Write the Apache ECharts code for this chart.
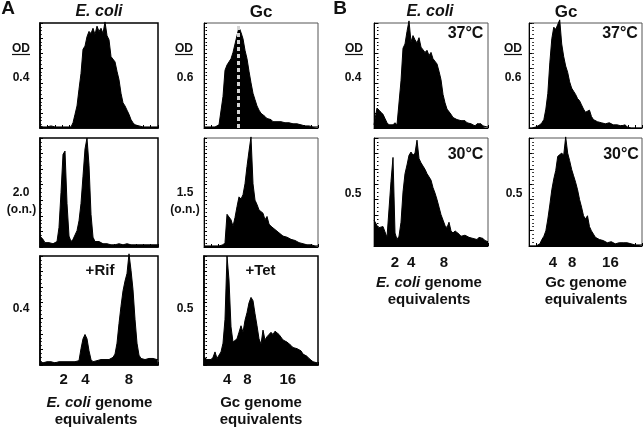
<!DOCTYPE html>
<html><head><meta charset="utf-8">
<script src="https://cdn.jsdelivr.net/npm/echarts@6/dist/echarts.min.js"></script>
<style>html,body{margin:0;padding:0;background:#fff}#c{width:644px;height:428px}</style>
</head><body><div id="c"></div>
<script>
// ---- data (histogram heights, % of panel full scale) ----
const ecoliTickLabels = [2, 4, 8];
const gcTickLabels = [4, 8, 16];

const ecoliA_log = [2,1,2,1,1,2,1,1,2,1,1,1,2,1,2,1,5,13,21,37,52,75,78,87,92,90,95,89,97,92,95,90,101,88,84,68,67,63,54,46,33,24,21,17,13,8,5,3,2,2,1,1,1,1,1,1,1,1,1];
const ecoliA_on = [10,7,4,3,4,3,3,4,5,18,50,85,88,40,10,5,7,11,15,24,40,65,90,100,75,30,9,5,4,5,4,3,4,3,3,2,3,2,2,3,2,2,2,3,2,2,2,2,2,2,2,2,2,2,2,2,2,2,2];
const ecoliA_rif = [3,2,3,3,2,3,3,2,3,3,2,3,3,3,2,3,3,3,3,4,15,24,28,24,13,5,3,3,4,4,5,5,5,6,5,6,7,10,20,38,54,68,77,84,102,87,69,42,20,9,6,6,5,6,6,5,6,6,5];
const gcA_log = [1,1,1,1,1,1,1,3,4,30,55,60,63,66,72,80,88,96,91,85,74,66,54,43,33,27,21,17,14,13,11,9,9,8,6,7,6,5,6,5,5,4,5,4,4,3,4,3,3,3,2,3,2,1,1,1,1];
const gcA_on = [1,1,1,1,1,1,1,1,2,2,4,30,29,25,19,27,37,46,44,48,58,74,88,101,58,43,39,34,33,31,25,28,21,19,18,16,15,13,13,10,10,9,8,7,6,6,5,4,4,3,3,2,2,2,1,1,1];
const gcA_tet = [7,5,6,5,7,12,6,7,12,20,42,100,78,35,21,20,24,30,36,30,41,48,57,62,59,47,36,24,19,32,23,26,28,30,28,31,32,28,27,23,24,21,20,18,16,17,15,14,13,10,9,8,6,5,3,2,2];
const ecoliB_37 = [3,19,17,15,13,9,5,3,4,3,5,3,4,45,76,80,92,102,82,88,84,81,86,77,76,72,74,69,72,66,66,61,54,46,32,24,18,18,13,10,11,8,9,7,8,7,5,4,4,4,2,4,3,4,2,2,1];
const gcB_37 = [0,0,0,1,2,3,5,8,18,33,62,85,96,94,93,103,80,68,59,53,44,38,35,32,28,26,22,18,15,14,17,11,8,9,6,7,5,6,4,5,5,4,3,3,3,3,2,2,3,1,0,0,0,0,0,0,0];
const ecoliB_30 = [24,19,17,17,18,13,8,8,60,82,12,6,9,22,50,67,75,84,87,84,86,98,81,77,74,71,67,68,61,54,49,43,36,29,24,19,17,22,14,12,14,15,11,9,9,10,9,8,8,7,7,6,8,7,7,5,4];
const gcB_30 = [0,0,0,0,1,2,6,9,14,25,38,52,62,70,83,82,86,84,101,86,79,71,65,59,52,43,36,28,25,28,18,14,11,8,7,6,5,5,4,3,3,4,3,2,3,3,4,3,2,3,3,2,2,1,1,1,1];

const gcA_dashLine = 6.1; // genome equivalents marker in Gc log-phase panel

// ---- layout ----
const FONT = '"Liberation Sans", Arial, Helvetica, sans-serif';
const panels = [
  {box:[40,23,118,105],  xr:[-0.16,10.66], data:ecoliA_log, bw:1.5, bc:'#000'},
  {box:[204,23,114,105], xr:[-0.6,22.0],   data:gcA_log,    bw:1,   bc:'#555', dash:gcA_dashLine},
  {box:[40,138,118,109], xr:[-0.16,10.66], data:ecoliA_on,  bw:1.5, bc:'#000'},
  {box:[204,138,114,109],xr:[-0.6,22.0],   data:gcA_on,     bw:1,   bc:'#555'},
  {box:[40,256,118,109], xr:[-0.16,10.66], data:ecoliA_rif, bw:1.5, bc:'#000', labels:ecoliTickLabels, margin:7},
  {box:[204,256,114,109],xr:[-0.6,22.0],   data:gcA_tet,    bw:1.5, bc:'#000', labels:gcTickLabels, margin:7},
  {box:[374,23,114,105], xr:[-0.55,13.39], data:ecoliB_37,  bw:1,   bc:'#555'},
  {box:[529,23,113,105], xr:[-1.0,22.6],   data:gcB_37,     bw:1,   bc:'#555'},
  {box:[374,138,114,108],xr:[-0.55,13.39], data:ecoliB_30,  bw:1,   bc:'#555', labels:ecoliTickLabels, margin:9},
  {box:[529,138,113,108],xr:[-1.0,22.6],   data:gcB_30,     bw:1,   bc:'#555', labels:gcTickLabels, margin:9}
];

const grid = [], xAxis = [], yAxis = [], series = [];
panels.forEach((p, gi) => {
  const [l,t,w,h] = p.box;
  grid.push({left:l, top:t, width:w, height:h, show:true, borderColor:p.bc, borderWidth:p.bw, backgroundColor:'transparent'});
  const [xmin,xmax] = p.xr;
  const xt = []; for (let k=0;k<=16;k++) xt.push(xmin + k*(xmax-xmin)/16);
  const yt = []; for (let k=0;k<=7;k++) yt.push(k*100/7);
  const ym = []; for (let k=0;k<=28;k++) ym.push(k*100/28);
  xAxis.push({
    gridIndex:gi, type:'value', min:xmin, max:xmax,
    axisLine:{show:true, onZero:false, lineStyle:{color:'#000', width:p.bw}},
    axisTick:{show:true, inside:true, length:3, customValues:xt, lineStyle:{color:'#000', width:1}},
    axisLabel: p.labels ? {show:true, customValues:p.labels, margin:p.margin, color:'#111',
      fontFamily:FONT, fontWeight:'bold', fontSize:15} : {show:false},
    splitLine:{show:false}
  });
  yAxis.push({
    gridIndex:gi, type:'value', min:0, max:100,
    axisLine:{show:true, onZero:false, lineStyle:{color:'#000', width:p.bw}},
    axisTick:{show:true, inside:true, length:3, customValues:yt, lineStyle:{color:'#000', width:1}},
    axisLabel:{show:false}, splitLine:{show:false}
  });
  yAxis.push({
    gridIndex:gi, type:'value', min:0, max:100,
    axisLine:{show:false},
    axisTick:{show:true, inside:true, length:1.5, customValues:ym, lineStyle:{color:'#000', width:1}},
    axisLabel:{show:false}, splitLine:{show:false}
  });
  const n = p.data.length, step = (xmax-xmin)/n;
  const pts = [[xmin, p.data[0]]];
  p.data.forEach((v,i) => pts.push([xmin + (i+0.5)*step, v]));
  pts.push([xmax, p.data[n-1]]);
  const s = {
    type:'line', xAxisIndex:gi, yAxisIndex:gi*2, data:pts, symbol:'none', clip:false,
    lineStyle:{color:'#000', width:1}, areaStyle:{color:'#000', opacity:1}, silent:true
  };
  if (p.dash !== undefined) {
    s.markLine = {silent:true, symbol:'none', label:{show:false},
      lineStyle:{color:'#d4d4d4', width:3, type:[4,3]}, data:[{xAxis:p.dash}]};
  }
  series.push(s);
});

function txt(text, x, y, font, extra) {
  return Object.assign({type:'text', x:x, y:y, silent:true,
    style:Object.assign({text:text, font:font, fill:'#111', textAlign:'center', textVerticalAlign:'middle', align:'center', verticalAlign:'middle'}, extra||{})});
}
const B12 = 'bold 12px ' + FONT, B15 = 'bold 15px ' + FONT, B16 = 'bold 16px ' + FONT;
const richGen = {i:{fontStyle:'italic', fontWeight:'bold', fontSize:15, fontFamily:FONT, fill:'#111'},
                 n:{fontWeight:'bold', fontSize:15, fontFamily:FONT, fill:'#111'}};
const graphic = [
  txt('A', 8, 9, 'bold 19px ' + FONT),
  txt('B', 340, 9, 'bold 19px ' + FONT),
  txt('E. coli', 99, 12, 'italic bold 16px ' + FONT),
  txt('Gc', 261, 12, 'bold 17px ' + FONT),
  txt('E. coli', 430, 12, 'italic bold 16px ' + FONT),
  txt('Gc', 566, 12, 'bold 17px ' + FONT),
  txt('OD', 21, 49, B12), txt('OD', 184, 49, B12), txt('OD', 354, 49, B12), txt('OD', 513, 49, B12),
  txt('0.4', 21, 78, B12), txt('0.6', 185, 78, B12), txt('0.4', 353, 78, B12), txt('0.6', 513, 78, B12),
  txt('2.0', 21, 193, B12), txt('(o.n.)', 21.5, 210, B12),
  txt('1.5', 185, 193, B12), txt('(o.n.)', 185, 210, B12),
  txt('0.4', 21, 309, B12), txt('0.5', 185, 309, B12),
  txt('0.5', 353, 194, B12), txt('0.5', 514, 194, B12),
  txt('+Rif', 100, 271, B15), txt('+Tet', 260.5, 271, B15),
  txt('37°C', 465.5, 34, B16), txt('37°C', 620, 34, B16),
  txt('30°C', 465.5, 155, B16), txt('30°C', 621, 155, B16),
  txt('{i|E. coli}{n| genome}', 99.5, 403, B15, {rich:richGen}),
  txt('equivalents', 96, 420, B15),
  txt('Gc genome', 261, 403, B15),
  txt('equivalents', 261, 420, B15),
  txt('{i|E. coli}{n| genome}', 429, 283, B15, {rich:richGen}),
  txt('equivalents', 429, 300, B15),
  txt('Gc genome', 586, 283, B15),
  txt('equivalents', 586, 300, B15)
];
[[12,30],[175,193],[345,363],[504,522]].forEach(([a,b]) => {
  graphic.push({type:'line', silent:true, shape:{x1:a, y1:54.5, x2:b, y2:54.5}, style:{stroke:'#111', lineWidth:1.2}});
});

const chart = echarts.init(document.getElementById('c'), null, {renderer:'canvas'});
chart.setOption({animation:false, backgroundColor:'#fff', grid, xAxis, yAxis, series, graphic});
</script>
</body></html>
